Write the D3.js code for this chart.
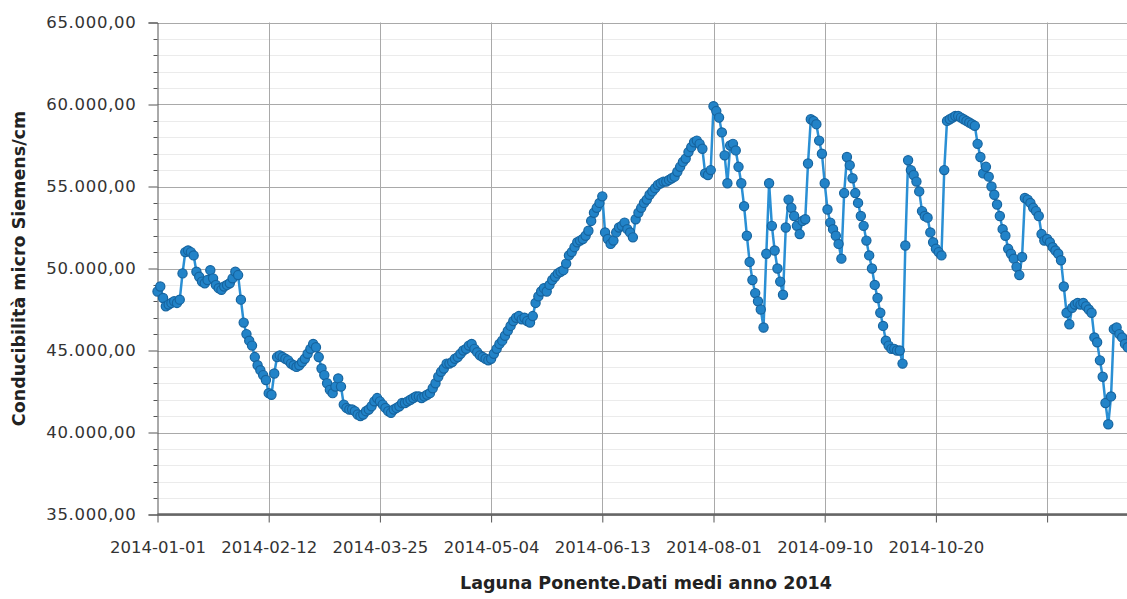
<!DOCTYPE html>
<html>
<head>
<meta charset="utf-8">
<script src="https://cdn.jsdelivr.net/npm/d3@7"></script>
<style>
  html, body { margin: 0; padding: 0; background: #ffffff; }
  svg { display: block; }
</style>
</head>
<body>
<svg id="chart" width="1127" height="599"></svg>
<script>
// ---- DATA ----
const values = [
  48600, 48900, 48200, 47700, 47800, 47900, 48000, 47900, 48100, 49700,
  51000, 51100, 51000, 50800, 49800, 49500, 49200, 49100, 49300, 49900,
  49400, 49000, 48800, 48700, 48900, 49000, 49100, 49400, 49800, 49600,
  48100, 46700, 46000, 45600, 45300, 44600, 44100, 43800, 43500, 43200,
  42400, 42300, 43600, 44600, 44700, 44600, 44500, 44400, 44200, 44100,
  44000, 44100, 44300, 44500, 44800, 45100, 45400, 45200, 44600, 43900,
  43500, 43000, 42600, 42400, 42800, 43300, 42800, 41700, 41500, 41400,
  41400, 41300, 41100, 41000, 41100, 41300, 41400, 41600, 41900, 42100,
  41900, 41700, 41500, 41300, 41200, 41400, 41500, 41600, 41800, 41800,
  41900, 42000, 42100, 42200, 42200, 42100, 42200, 42300, 42400, 42700,
  43000, 43400, 43700, 43900, 44200, 44200, 44300, 44500, 44600, 44800,
  45000, 45100, 45300, 45400, 45100, 44900, 44700, 44600, 44500, 44400,
  44500, 44800, 45100, 45400, 45600, 45900, 46200, 46500, 46800, 47000,
  47100, 46900, 47000, 46800, 46700, 47100, 47900, 48300, 48600, 48800,
  48600, 49000, 49300, 49500, 49700, 49800, 49900, 50300, 50800, 51000,
  51300, 51600, 51700, 51800, 52000, 52300, 52900, 53400, 53700, 54000,
  54400, 52200, 51800, 51500, 51700, 52200, 52500, 52600, 52800, 52400,
  52200, 51900, 53000, 53400, 53700, 54000, 54200, 54500, 54700, 54900,
  55100, 55200, 55300, 55300, 55400, 55500, 55600, 55900, 56200, 56500,
  56700, 57100, 57400, 57700, 57800, 57600, 57300, 55800, 55700, 56000,
  59900, 59600, 59200, 58300, 56900, 55200, 57500, 57600, 57200, 56200,
  55200, 53800, 52000, 50400, 49300, 48500, 48000, 47500, 46400, 50900,
  55200, 52600, 51100, 50000, 49200, 48400, 52500, 54200, 53700, 53200,
  52600, 52100, 52900, 53000, 56400, 59100, 59000, 58800, 57800, 57000,
  55200, 53600, 52800, 52400, 52000, 51500, 50600, 54600, 56800, 56300,
  55500, 54600, 54000, 53200, 52600, 51700, 50800, 50000, 49000, 48200,
  47300, 46500, 45600, 45300, 45100, 45100, 45000, 45000, 44200, 51400,
  56600, 56000, 55700, 55300, 54700, 53500, 53200, 53100, 52200, 51600,
  51200, 51000, 50800, 56000, 59000, 59100, 59200, 59300, 59300, 59200,
  59100, 59000, 58900, 58800, 58700, 57600, 56800, 55800, 56200, 55600,
  55000, 54500, 53900, 53200, 52400, 52000, 51200, 50900, 50600, 50100,
  49600, 50700, 54300, 54200, 54000, 53700, 53500, 53200, 52100, 51700,
  51800, 51600, 51300, 51100, 50900, 50500, 48900, 47300, 46600, 47600,
  47800, 47900, 47800, 47900, 47700, 47500, 47300, 45800, 45500, 44400,
  43400, 41800, 40500, 42200, 46300, 46400, 46000, 45800, 45400, 45200
];
const tickLabels = ["2014-01-01", "2014-02-12", "2014-03-25", "2014-05-04",
                    "2014-06-13", "2014-08-01", "2014-09-10", "2014-10-20", ""];
const pointsPerTick = 40;
const yTickValues = [35000, 40000, 45000, 50000, 55000, 60000, 65000];
const yMinorValues = d3.range(35000, 65001, 1000);
const yTitle = "Conducibilità micro Siemens/cm";
const xTitle = "Laguna Ponente.Dati medi anno 2014";

// ---- LAYOUT ----
const mLeft = 157.5, mTop = 22.5, mBottom = 514.5, mRight = 1140;
const FONT = "DejaVu Sans, Verdana, sans-serif";
const svg = d3.select("#chart");

const xTickIdx = tickLabels.map((d, i) => i * pointsPerTick);
const x = d3.scaleLinear()
  .domain([0, xTickIdx[xTickIdx.length - 1]])
  .range([mLeft, mLeft + 111.2 * (tickLabels.length - 1)]);
const y = d3.scaleLinear().domain([35000, 65000]).range([mBottom, mTop]);

const it = d3.formatLocale({decimal: ",", thousands: ".", grouping: [3], currency: ["€", ""]});
const fmt = it.format(",.2f");

// minor horizontal grid
svg.append("g").selectAll("line")
  .data(yMinorValues.filter(v => v % 5000 !== 0))
  .join("line")
  .attr("x1", mLeft).attr("x2", mRight)
  .attr("y1", d => Math.round(y(d)) + 0.5).attr("y2", d => Math.round(y(d)) + 0.5)
  .attr("stroke", "#ebebeb").attr("stroke-width", 1);

// major horizontal grid
svg.append("g").selectAll("line")
  .data(yTickValues)
  .join("line")
  .attr("x1", mLeft).attr("x2", mRight)
  .attr("y1", d => Math.round(y(d)) + 0.5).attr("y2", d => Math.round(y(d)) + 0.5)
  .attr("stroke", "#a9a9a9").attr("stroke-width", 1);

// vertical grid
svg.append("g").selectAll("line")
  .data(xTickIdx.slice(1))
  .join("line")
  .attr("x1", d => Math.round(x(d)) + 0.5).attr("x2", d => Math.round(x(d)) + 0.5)
  .attr("y1", mTop).attr("y2", mBottom)
  .attr("stroke", "#a9a9a9").attr("stroke-width", 1);

// y axis
const yAxis = d3.axisLeft(y).tickValues(yTickValues).tickFormat(fmt).tickSize(9).tickPadding(12);
const gy = svg.append("g").attr("transform", `translate(${mLeft},0)`).call(yAxis);
gy.select(".domain").attr("stroke", "#555");
gy.selectAll(".tick line").attr("stroke", "#555");
gy.selectAll(".tick text")
  .attr("font-family", FONT).attr("letter-spacing", "0.7px")
  .attr("font-size", "16.5px").attr("fill", "#333");
// minor y ticks
svg.append("g").selectAll("line")
  .data(yMinorValues.filter(v => v % 5000 !== 0))
  .join("line")
  .attr("x1", mLeft - 4).attr("x2", mLeft)
  .attr("y1", d => Math.round(y(d)) + 0.5).attr("y2", d => Math.round(y(d)) + 0.5)
  .attr("stroke", "#555");

// x axis
const xAxis = d3.axisBottom(x).tickValues(xTickIdx)
  .tickFormat((d, i) => tickLabels[i]).tickSize(8).tickPadding(19);
const gx = svg.append("g").attr("transform", `translate(0,${mBottom})`).call(xAxis);
gx.select(".domain").remove();
gx.selectAll(".tick line").attr("stroke", "#555");
gx.selectAll(".tick text")
  .attr("font-family", FONT)
  .attr("font-size", "16.5px").attr("fill", "#333");
svg.append("line")
  .attr("x1", mLeft).attr("x2", mRight).attr("y1", mBottom).attr("y2", mBottom)
  .attr("stroke", "#666").attr("stroke-width", 2.5);

// titles
svg.append("text")
  .attr("transform", `translate(19,${(mTop + mBottom) / 2}) rotate(-90)`)
  .attr("text-anchor", "middle").attr("dominant-baseline", "central")
  .attr("font-family", FONT)
  .attr("font-weight", "bold").attr("font-size", "17.5px").attr("fill", "#222")
  .text(yTitle);
svg.append("text")
  .attr("x", 646).attr("y", 589)
  .attr("text-anchor", "middle")
  .attr("font-family", FONT)
  .attr("font-weight", "bold").attr("font-size", "17.5px").attr("fill", "#222")
  .text(xTitle);

// series
const line = d3.line().x((d, i) => x(i)).y(d => y(d));
svg.append("path").datum(values)
  .attr("d", line).attr("fill", "none")
  .attr("stroke", "#2a8fd4").attr("stroke-width", 2.5);
svg.append("g").selectAll("circle")
  .data(values)
  .join("circle")
  .attr("cx", (d, i) => x(i)).attr("cy", d => y(d)).attr("r", 4.6)
  .attr("fill", "#2283c8").attr("stroke", "#16649f").attr("stroke-width", 1.2);
</script>
</body>
</html>
